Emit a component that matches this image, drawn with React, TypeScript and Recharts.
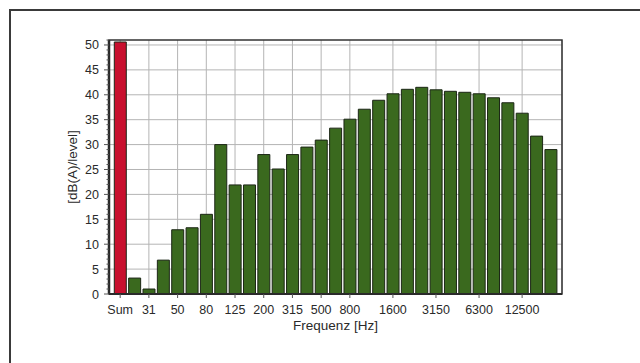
import React from "react";
import * as R from "recharts";
import { BarChart, Bar, XAxis, YAxis, CartesianGrid, Cell, Label } from "recharts";

const CATEGORIES = ["Sum", "25", "31", "40", "50", "63", "80", "100", "125", "160", "200", "250", "315", "400", "500", "630", "800", "1000", "1250", "1600", "2000", "2500", "3150", "4000", "5000", "6300", "8000", "10000", "12500", "16000", "20000"];
const LEVELS = [50.6, 3.2, 1.0, 6.8, 12.9, 13.3, 16.0, 30.0, 21.9, 21.9, 28.0, 25.1, 28.0, 29.5, 30.9, 33.3, 35.1, 37.1, 38.9, 40.2, 41.1, 41.5, 41.0, 40.7, 40.5, 40.2, 39.4, 38.4, 36.3, 31.7, 29.0];
const X_TICKS = ["Sum", "31", "50", "80", "125", "200", "315", "500", "800", "1600", "3150", "6300", "12500"];
const Y_MAJOR = [0, 5, 10, 15, 20, 25, 30, 35, 40, 45, 50];
const Y_ALL = Array.from({ length: 52 }, (_, i) => i);
const Y_DOMAIN = [0, 51];

const data = CATEGORIES.map((name, i) => ({ name, level: LEVELS[i] }));

const FONT = "'Liberation Sans', Arial, sans-serif";
const TEXT = "#2a2a2a";
const GREEN = "#3a691e";
const RED = "#c8102e";
const EDGE = "#1c2616";

const YTick = (props: any) => {
  const { x, y, payload } = props;
  const v = payload.value;
  const major = v % 5 === 0;
  return (
    <g>
      <line x1={x} x2={x - (major ? 5 : 2.5)} y1={y} y2={y} stroke="#555" strokeWidth={1} />
      {major && (
        <text x={x - 10} y={y} dy="0.36em" textAnchor="end" fontSize={12.5} fill={TEXT} fontFamily={FONT}>
          {v}
        </text>
      )}
    </g>
  );
};

const PlotFrame = () => {
  const hook: any = (R as any).usePlotArea;
  const area = hook ? hook() : null;
  if (!area) return null;
  return (
    <rect x={area.x} y={area.y} width={area.width} height={area.height} fill="none" stroke="#333" strokeWidth={1.5} />
  );
};

export default function App() {
  return (
    <div style={{ position: "absolute", left: 0, top: 0, width: 640, height: 363, background: "#fff", overflow: "hidden" }}>
      <div style={{ position: "absolute", left: 9, top: 9, width: 640, height: 2, background: "#3a3a3a" }} />
      <div style={{ position: "absolute", left: 9, top: 9, width: 2, height: 363, background: "#3a3a3a" }} />
      <div style={{ position: "absolute", left: 0, top: 0 }}>
        <BarChart
          width={640}
          height={363}
          data={data}
          margin={{ top: 40, right: 78, bottom: 0, left: 0 }}
          barCategoryGap="9%"
        >
          <CartesianGrid stroke="#b4b4b4" strokeWidth={1} horizontalValues={Y_MAJOR.filter((v) => v > 0)} fill="#fff" />
          <XAxis
            dataKey="name"
            ticks={X_TICKS}
            interval={0}
            height={69}
            padding={{ left: 4, right: 4 }}
            tickSize={4}
            tickMargin={7}
            tick={{ fontSize: 12.5, fill: TEXT, fontFamily: FONT }}
            tickLine={{ stroke: "#555" }}
            axisLine={{ stroke: "#2a2a2a", strokeWidth: 2 }}
          >
            <Label
              content={(p: any) => {
                const vb = p.viewBox;
                return (
                  <text x={vb.x + vb.width / 2} y={330} textAnchor="middle" fontSize={13.5} fill={TEXT} fontFamily={FONT}>
                    Frequenz [Hz]
                  </text>
                );
              }}
            />
          </XAxis>
          <YAxis
            type="number"
            domain={Y_DOMAIN}
            ticks={Y_ALL}
            interval={0}
            width={109}
            tickSize={0}
            tickMargin={0}
            tickLine={false}
            tick={<YTick />}
            axisLine={{ stroke: "#2a2a2a", strokeWidth: 2.5 }}
          >
            <Label
              content={(p: any) => {
                const vb = p.viewBox;
                const cx = vb.x + 72;
                const cy = vb.y + vb.height / 2;
                return (
                  <text x={cx} y={cy} transform={`rotate(-90 ${cx} ${cy})`} textAnchor="middle" dominantBaseline="central" fontSize={13.5} fill={TEXT} fontFamily={FONT}>
                    [dB(A)/level]
                  </text>
                );
              }}
            />
          </YAxis>
          <Bar dataKey="level" isAnimationActive={false} stroke={EDGE} strokeWidth={1}>
            {data.map((d, i) => (
              <Cell key={d.name} fill={i === 0 ? RED : GREEN} />
            ))}
          </Bar>
          <PlotFrame />
        </BarChart>
      </div>
    </div>
  );
}
